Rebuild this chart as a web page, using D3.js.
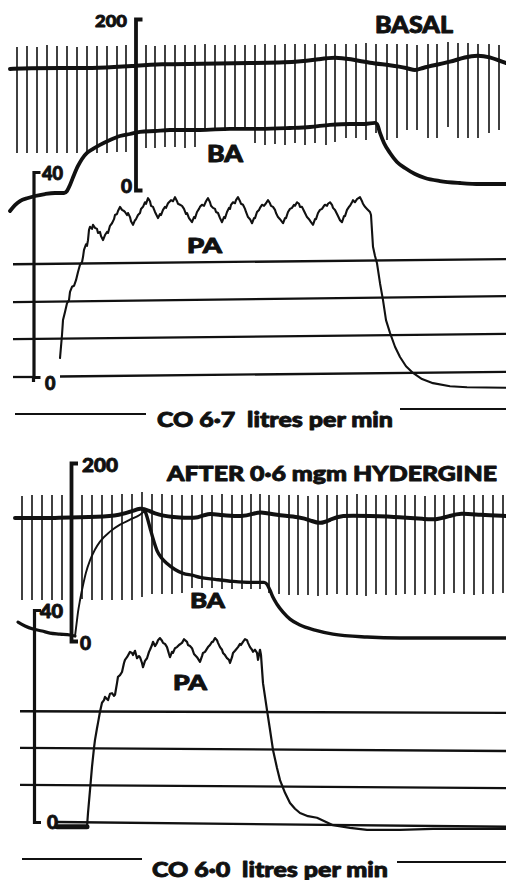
<!DOCTYPE html>
<html><head><meta charset="utf-8">
<script src="https://cdn.jsdelivr.net/npm/d3@7"></script>
<style>
html,body{margin:0;padding:0;background:#fff;}
svg{display:block;}
text{font-family:Lato,"Open Sans",sans-serif;font-weight:900;fill:#111;stroke:#111;stroke-width:0.9px;stroke-linejoin:round;white-space:pre;}
</style></head><body>
<svg id="chart" width="506" height="880"></svg>
<script>
// ---------------- DATA ----------------
const panelTitles = ["BASAL", "AFTER 0\u00B76 mgm HYDERGINE"];
const captions = ["CO 6\u00B77  litres per min", "CO 6\u00B70  litres per min"];
const traceNames = ["BA", "PA"];
const baTicks = [0, 200];   // mmHg
const paTicks = [0, 40];    // mmHg

// ECG beats: [time s, spike top, spike bottom] (ECG units)
const beatsBasal = [[1.7,9.3,-1.3],[2.7,9.4,-1.3],[3.7,9.3,-1.3],[4.7,9.5,-1.3],[5.7,9.4,-1.3],[6.7,9.4,-1.3],[7.7,9.3,-1.3],[8.7,9.4,-1.3],[9.7,9.4,-1.3],[10.7,9.4,-1.3],[11.7,9.4,-1.2],[12.6,9.5,-1.2],[13.6,9.5,-1.0],[14.6,9.5,-0.8],[15.5,9.4,-0.8],[16.5,9.5,-0.7],[17.5,9.5,-0.7],[18.5,9.5,-0.8],[19.5,9.5,-0.7],[20.5,9.6,0.9],[21.5,9.5,0.9],[22.5,9.5,0.9],[23.5,9.5,1.0],[24.5,9.5,1.0],[25.5,9.5,-0.3],[26.5,9.6,-0.5],[27.5,9.5,-0.4],[28.5,9.6,-0.5],[29.5,9.6,-0.3],[30.5,9.6,-0.5],[31.5,9.6,-0.3],[32.6,9.6,-0.5],[33.5,9.6,-0.2],[34.6,9.6,0.2],[35.6,9.6,0.2],[36.6,9.7,0.0],[37.6,9.6,0.7],[38.7,9.6,0.0],[39.7,9.6,0.2],[40.7,9.6,1.0],[41.7,9.5,1.0],[42.8,9.6,0.2],[43.7,9.6,0.2],[44.8,9.8,1.3],[45.8,9.7,0.2],[46.8,9.7,0.2],[47.8,9.6,0.2],[48.9,9.6,0.7],[49.9,9.5,1.0]];
const beatsAfter = [[2.2,9.4,-1.0],[3.2,9.5,-1.0],[4.2,9.5,-1.0],[5.2,9.5,-1.0],[6.2,9.5,-1.0],[7.2,9.6,-1.0],[8.2,9.5,-0.9],[9.2,9.5,-1.0],[10.2,9.5,-1.0],[11.2,9.5,-1.0],[12.2,9.6,-1.0],[13.2,9.6,-1.0],[14.2,9.8,-0.7],[15.2,9.6,-0.4],[16.2,9.6,-0.4],[17.2,9.5,-0.4],[18.2,9.5,-0.3],[19.2,9.5,0.2],[20.2,9.5,0.2],[21.2,9.5,0.2],[22.2,9.6,0.1],[23.2,9.5,0.1],[24.2,9.5,0.1],[25.1,9.6,0.1],[26.0,9.6,0.1],[26.9,9.5,-0.3],[27.9,9.5,-0.4],[28.9,9.5,-0.5],[29.8,9.5,-0.5],[30.8,9.4,-0.5],[31.8,9.5,-0.6],[32.7,9.5,-0.5],[33.7,9.5,-0.4],[34.7,9.5,-0.5],[35.7,9.6,-0.5],[36.6,9.5,-0.6],[37.6,9.5,-0.4],[38.6,9.5,-0.5],[39.6,9.5,-0.5],[40.5,9.5,-0.4],[41.5,9.5,-0.5],[42.5,9.4,-0.4],[43.5,9.5,-0.5],[44.4,9.5,-0.4],[45.4,9.5,-0.3],[46.4,9.5,-0.4],[47.4,9.5,-0.5],[48.3,9.5,-0.4],[49.3,9.5,-0.4],[50.3,9.5,-0.3]];

// ECG baseline wander: [time s, ECG units]
const ecgBasal = [[1.0,7.1],[3.0,7.2],[6.0,7.2],[10.0,7.2],[13.3,7.4],[16.0,7.6],[20.0,7.6],[25.0,7.7],[30.0,7.8],[32.0,8.1],[33.5,8.3],[35.0,8.1],[37.0,7.7],[39.0,7.5],[40.8,7.2],[41.5,6.9],[42.2,7.2],[43.5,7.5],[45.0,7.8],[46.5,8.3],[47.8,8.5],[49.0,8.3],[50.0,7.9],[50.6,7.7]];
const ecgAfter = [[1.5,7.2],[6.0,7.2],[10.0,7.3],[12.0,7.5],[13.3,7.9],[14.0,8.2],[14.8,8.0],[15.7,7.5],[18.0,7.2],[20.0,7.2],[20.7,7.7],[22.0,7.5],[24.3,7.3],[25.5,7.7],[26.2,7.8],[27.5,7.5],[30.0,7.3],[31.2,6.9],[32.0,6.6],[33.0,7.0],[34.0,7.5],[37.0,7.4],[40.0,7.3],[42.5,7.1],[43.5,7.0],[45.0,7.4],[46.0,7.7],[48.0,7.5],[50.6,7.4]];

// Brachial artery pressure BA: [time s, mmHg]
const baBasal = [[1.0,-24.6],[1.5,-17.6],[2.0,-12.9],[2.8,-9.4],[3.5,-7.0],[4.5,-4.7],[5.5,-3.5],[6.4,-3.5],[6.7,-1.2],[7.0,5.9],[7.4,17.6],[7.8,28.1],[8.2,36.3],[8.7,43.3],[9.3,48.0],[10.0,52.7],[11.0,58.5],[12.0,63.2],[13.0,65.5],[14.0,67.9],[15.5,69.0],[17.0,70.2],[20.0,70.2],[23.0,71.4],[26.0,71.4],[29.0,72.5],[31.0,73.7],[33.0,76.1],[35.0,77.2],[36.5,77.2],[37.5,78.4],[37.7,77.2],[38.0,66.7],[38.4,55.0],[39.0,43.3],[39.7,32.8],[40.5,25.7],[41.5,18.7],[42.5,14.0],[44.0,10.5],[46.0,8.2],[48.0,7.0],[50.6,7.0]];
const baAfterPre = [[1.8,21.2],[2.5,16.8],[3.3,13.4],[4.2,11.2],[5.0,8.9],[6.0,7.8],[7.0,6.7],[7.5,5.6]];
const baAfterRise = [[7.5,5.6],[7.6,14.5],[7.7,23.5],[7.8,32.4],[8.0,45.8],[8.3,62.6],[8.6,77.1],[9.0,90.5],[9.5,102.8],[10.0,111.7],[11.0,122.9],[12.0,130.7],[13.0,136.3],[14.0,141.9],[14.5,146.3]];
const baAfter = [[14.5,146.3],[14.7,139.6],[15.0,127.3],[15.3,115.1],[15.7,101.6],[16.2,92.7],[16.7,87.1],[17.5,80.4],[18.3,76.0],[19.3,73.7],[20.0,71.5],[21.5,69.3],[23.3,67.0],[25.0,65.9],[26.4,65.9],[26.7,63.7],[27.0,57.0],[27.3,49.1],[27.7,41.3],[28.3,32.4],[29.0,24.6],[30.0,17.9],[31.5,12.3],[33.3,7.8],[36.7,4.5],[40.0,3.4],[50.6,3.4]];

// Pulmonary artery pressure PA: [time s, mmHg]
const paBasal = [[6.0,3.7],[6.2,8.2],[6.3,11.1],[6.5,12.7],[6.7,14.4],[6.9,15.0],[7.0,16.6],[7.2,17.6],[7.4,17.8],[7.6,18.9],[7.8,20.5],[8.0,21.9],[8.2,22.4],[8.3,23.4],[8.4,24.8],[8.6,25.9],[8.7,25.6],[8.8,26.7],[8.9,28.7],[9.0,29.3],[9.2,28.9],[9.3,29.7],[9.5,29.1],[9.7,28.9],[9.8,28.1],[10.0,28.3],[10.1,27.5],[10.3,26.7],[10.5,27.7],[10.7,28.3],[10.8,28.1],[11.0,29.5],[11.2,30.0],[11.4,30.8],[11.5,31.6],[11.7,31.8],[11.8,32.4],[12.0,33.2],[12.2,32.6],[12.4,32.4],[12.5,32.2],[12.7,31.6],[12.8,32.0],[13.0,31.2],[13.1,30.4],[13.3,29.7],[13.5,30.6],[13.6,30.8],[13.8,31.6],[14.0,32.0],[14.1,32.8],[14.3,33.2],[14.5,34.1],[14.6,33.8],[14.8,34.9],[15.0,34.3],[15.1,33.4],[15.3,33.2],[15.5,32.2],[15.6,31.8],[15.8,31.0],[16.0,31.8],[16.1,31.6],[16.3,32.6],[16.5,33.2],[16.6,33.0],[16.8,33.9],[17.0,34.3],[17.1,34.5],[17.3,34.3],[17.5,35.1],[17.7,34.3],[17.8,33.8],[18.0,33.6],[18.2,33.4],[18.4,32.8],[18.6,31.8],[18.7,32.0],[18.9,31.0],[19.2,30.2],[19.4,31.2],[19.5,31.0],[19.7,32.2],[19.9,32.8],[20.0,33.2],[20.2,33.6],[20.4,33.4],[20.6,34.3],[20.8,34.9],[21.0,34.1],[21.1,33.4],[21.3,33.0],[21.5,32.8],[21.6,32.2],[21.8,32.0],[22.0,31.0],[22.2,30.2],[22.4,31.2],[22.5,31.0],[22.7,32.2],[22.9,33.0],[23.0,32.8],[23.1,33.6],[23.3,34.1],[23.5,33.9],[23.6,34.5],[23.8,35.1],[24.0,34.3],[24.1,33.8],[24.3,33.6],[24.5,32.8],[24.6,32.2],[24.8,31.2],[25.0,30.8],[25.2,30.0],[25.4,31.0],[25.5,31.0],[25.7,32.2],[25.9,32.6],[26.0,33.0],[26.2,33.6],[26.4,33.4],[26.6,33.9],[26.8,34.5],[27.0,33.9],[27.1,33.4],[27.3,33.2],[27.5,32.6],[27.6,32.0],[27.8,31.2],[28.0,30.8],[28.3,30.0],[28.5,31.0],[28.6,31.0],[28.8,32.2],[29.0,32.8],[29.2,33.0],[29.4,33.6],[29.5,33.4],[29.7,34.1],[29.9,33.8],[30.0,33.2],[30.2,33.2],[30.4,32.4],[30.5,32.0],[30.7,31.2],[30.9,30.8],[31.1,30.2],[31.3,29.7],[31.5,30.8],[31.6,30.8],[31.8,32.0],[32.0,32.6],[32.2,32.8],[32.4,33.4],[32.5,33.6],[32.7,33.4],[32.8,33.8],[33.0,34.1],[33.2,33.6],[33.3,33.0],[33.5,32.6],[33.7,31.8],[33.8,31.4],[34.0,30.6],[34.2,30.2],[34.4,31.4],[34.5,31.4],[34.7,32.6],[34.9,33.2],[35.0,33.4],[35.2,34.1],[35.3,34.5],[35.5,34.1],[35.7,34.7],[36.0,35.1],[36.2,34.3],[36.3,33.8],[36.5,33.2],[36.7,32.8],[36.8,32.6],[37.0,32.2],[37.1,31.6],[37.3,25.4],[37.5,23.6],[37.7,22.2],[38.0,18.3],[38.3,15.0],[38.6,11.1],[39.0,8.6],[39.5,5.9],[40.0,3.9],[40.6,2.1],[41.3,0.8],[42.2,-0.4],[43.3,-1.2],[45.0,-1.8],[46.7,-2.0],[50.6,-2.1]];
const paAfterRest = [[5.7,-0.9],[8.7,-0.9]];
const paAfter = [[8.7,-0.9],[8.8,1.7],[9.0,6.0],[9.2,10.4],[9.4,14.0],[9.5,15.5],[9.7,17.7],[9.8,18.7],[10.0,20.8],[10.2,22.5],[10.4,23.0],[10.5,23.6],[10.7,23.2],[10.8,23.0],[11.0,24.2],[11.2,24.3],[11.4,23.8],[11.5,24.0],[11.7,26.2],[11.8,27.4],[12.0,27.7],[12.2,28.3],[12.4,30.0],[12.5,30.6],[12.7,31.1],[13.0,32.1],[13.2,31.9],[13.3,31.5],[13.5,32.3],[13.7,30.9],[13.9,31.3],[14.0,31.1],[14.2,30.0],[14.3,29.2],[14.5,30.4],[14.7,30.9],[14.9,32.1],[15.0,32.5],[15.2,33.4],[15.3,34.0],[15.5,33.2],[15.7,33.8],[15.8,34.3],[16.0,34.7],[16.2,34.2],[16.3,33.8],[16.5,33.6],[16.7,33.0],[16.9,31.7],[17.0,31.1],[17.2,32.1],[17.3,31.9],[17.5,32.8],[17.7,33.0],[17.9,33.4],[18.2,33.8],[18.4,34.5],[18.5,34.3],[18.7,34.0],[18.8,33.4],[19.0,33.2],[19.2,32.8],[19.4,31.7],[19.7,31.1],[20.0,30.2],[20.2,31.3],[20.3,31.9],[20.5,32.1],[20.8,33.0],[21.0,33.4],[21.2,34.0],[21.3,34.0],[21.5,34.7],[21.7,34.3],[21.8,33.8],[22.0,33.0],[22.2,32.5],[22.3,31.9],[22.5,31.5],[22.7,30.9],[22.9,30.6],[23.0,30.0],[23.2,31.1],[23.3,31.9],[23.5,32.3],[23.8,33.0],[24.0,33.6],[24.1,33.4],[24.3,34.0],[24.5,34.5],[24.7,34.3],[24.8,33.8],[25.0,33.0],[25.2,32.5],[25.3,32.1],[25.5,32.5],[25.7,31.9],[25.8,30.6],[26.0,32.5],[26.1,31.5],[26.3,26.2],[26.7,21.1],[27.0,17.4],[27.3,13.6],[27.7,10.2],[28.0,7.9],[28.5,5.5],[29.0,3.6],[29.5,2.5],[30.0,1.7],[30.8,1.1],[31.7,0.8],[33.3,-0.6],[35.0,-1.1],[36.7,-1.5],[40.0,-1.5],[43.3,-1.3],[47.0,-1.3],[50.6,-1.3]];

// chart-paper reference lines (PA units): [t0, v0, t1, v1]
const gridBasal = [[1.3,22.0,50.6,23.0],[1.3,14.6,50.6,15.8],[1.3,7.4,50.6,8.4],[1.3,0,3.3,0],[6.0,0.1,50.6,1.0]];
const gridAfter = [[2.0,20.9,50.6,20.6],[2.0,14.0,50.6,13.4],[2.0,7.0,50.6,6.4],[5.7,0,50.6,-0.9]];

// ---------------- DRAWING ----------------
const INK = "#111";
const svg = d3.select("#chart");
const x = d3.scaleLinear().domain([0, 50.6]).range([0, 506]);

const panels = [
  { ecg: d3.scaleLinear().domain([0,10]).range([140,40]),
    ba: d3.scaleLinear().domain(d3.extent(baTicks)).range([190,19]),
    pa: d3.scaleLinear().domain(d3.extent(paTicks)).range([377,172]),
    beats: beatsBasal, ecgBase: ecgBasal, grid: gridBasal,
    baSegs: [[baBasal, 3.8]], paSegs: [[paBasal, 2.1]],
    baAxisT: 13.55, paAxisT: 3.35, paAxisExtra: 5,
    title: {x:375, y:33, len:78, size:22},
    baName: {x:207, y:162, len:36, size:22},
    paName: {x:187, y:253, len:35, size:20},
    baLab: [{x:132, dy:3, anchor:"end", size:19}, {x:127, dy:8, anchor:"end", size:17, len:32}],
    paLab: [{x:45, dy:13, size:18}, {x:42, dy:8, size:18, len:21}],
    cap: {x:157, y:427, len:236, l:[15,146,414], r:[400,506,409]}
  },
  { ecg: d3.scaleLinear().domain([0,10]).range([590,490]),
    ba: d3.scaleLinear().domain(d3.extent(baTicks)).range([641,463]),
    pa: d3.scaleLinear().domain(d3.extent(paTicks)).range([822,610]),
    beats: beatsAfter, ecgBase: ecgAfter, grid: gridAfter,
    baSegs: [[baAfterPre, 3.2],[baAfterRise, 1.9],[baAfter, 3.4]], paSegs: [[paAfterRest, 5],[paAfter, 2.2]],
    baAxisT: 7.1, paAxisT: 3.4, paAxisExtra: 0,
    title: {x:167, y:481, len:330, size:21},
    baName: {x:190, y:608, len:35, size:21},
    paName: {x:173, y:690, len:34, size:20},
    baLab: [{x:80, dy:9, anchor:"start", size:19}, {x:82, dy:9, anchor:"start", size:19, len:36}],
    paLab: [{x:47, dy:7, size:19}, {x:40, dy:8, size:18, len:23}],
    cap: {x:152, y:877, len:236, l:[22,142,859], r:[397,506,862]}
  }
];

panels.forEach((p, i) => {
  const g = svg.append("g");

  // paper lines
  g.append("g").selectAll("line").data(p.grid).join("line")
    .attr("x1", d => x(d[0])).attr("y1", d => p.pa(d[1]))
    .attr("x2", d => x(d[2])).attr("y2", d => p.pa(d[3]))
    .attr("stroke", INK).attr("stroke-width", 2.3);

  // ECG spikes
  g.append("g").selectAll("line").data(p.beats).join("line")
    .attr("x1", d => x(d[0])).attr("x2", d => x(d[0]))
    .attr("y1", d => p.ecg(d[1])).attr("y2", d => p.ecg(d[2]))
    .attr("stroke", INK).attr("stroke-width", 1.6);

  // ECG baseline
  g.append("path").datum(p.ecgBase)
    .attr("d", d3.line().x(d => x(d[0])).y(d => p.ecg(d[1])).curve(d3.curveBasis))
    .attr("fill", "none").attr("stroke", INK).attr("stroke-width", 4).attr("stroke-linecap","round");

  // BA
  p.baSegs.forEach(([data, w]) => {
    g.append("path").datum(data)
      .attr("d", d3.line().x(d => x(d[0])).y(d => p.ba(d[1])).curve(d3.curveMonotoneX))
      .attr("fill", "none").attr("stroke", INK).attr("stroke-width", w).attr("stroke-linecap","round");
  });

  // PA
  p.paSegs.forEach(([data, w]) => {
    g.append("path").datum(data)
      .attr("d", d3.line().x(d => x(d[0])).y(d => p.pa(d[1])))
      .attr("fill", "none").attr("stroke", INK).attr("stroke-width", w)
      .attr("stroke-linejoin","round").attr("stroke-linecap","round");
  });

  // axes (bracket style)
  const mkAxis = (scale, t, w) => {
    const ax = g.append("g").attr("transform", `translate(${x(t)},0)`)
      .call(d3.axisRight(scale).tickValues([]).tickSizeOuter(7));
    ax.select(".domain").attr("stroke", INK).attr("stroke-width", w).attr("fill","none");
    return ax;
  };
  mkAxis(p.ba, p.baAxisT, 3.8);
  mkAxis(p.pa, p.paAxisT, 3.2);
  if (p.paAxisExtra) {
    g.append("line").attr("x1", x(p.paAxisT)).attr("x2", x(p.paAxisT))
      .attr("y1", p.pa(0)).attr("y2", p.pa(0) + p.paAxisExtra)
      .attr("stroke", INK).attr("stroke-width", 3.2);
  }

  // axis labels
  const tlab = (val, scale, o) => {
    const t = g.append("text").attr("x", o.x).attr("y", scale(val) + o.dy)
      .attr("font-size", o.size).attr("text-anchor", o.anchor || "start").text(val);
    if (o.len) t.attr("textLength", o.len).attr("lengthAdjust", "spacingAndGlyphs");
  };
  baTicks.forEach((v, k) => tlab(v, p.ba, p.baLab[k]));
  paTicks.forEach((v, k) => tlab(v, p.pa, p.paLab[k]));

  // titles & trace names
  const lab = (txt, o) => g.append("text").attr("x", o.x).attr("y", o.y)
    .attr("font-size", o.size).attr("textLength", o.len).attr("lengthAdjust", "spacingAndGlyphs").text(txt);
  lab(panelTitles[i], p.title);
  lab(traceNames[0], p.baName);
  lab(traceNames[1], p.paName);

  // caption
  lab(captions[i], {x: p.cap.x, y: p.cap.y, len: p.cap.len, size: 21});
  [p.cap.l, p.cap.r].forEach(s => g.append("line")
    .attr("x1", s[0]).attr("x2", s[1]).attr("y1", s[2]).attr("y2", s[2])
    .attr("stroke", INK).attr("stroke-width", 2));
});
</script>
</body></html>
